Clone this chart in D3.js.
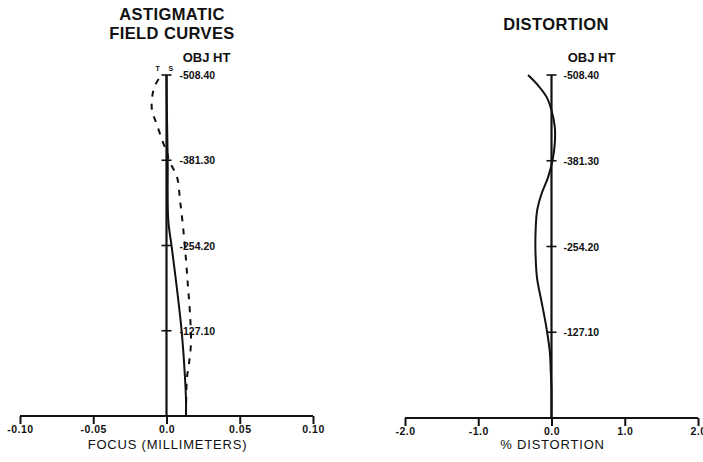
<!DOCTYPE html>
<html>
<head>
<meta charset="utf-8">
<script src="https://cdn.jsdelivr.net/npm/d3@7"></script>
<style>
  body { margin: 0; background: #fff; }
  svg { display: block; }
  text { font-family: "Liberation Sans", Arial, sans-serif; fill: #111; }
</style>
</head>
<body>
<div id="chart"></div>
<script>
// object heights shared by both panels
const objHeights = [127.10, 254.20, 381.30, 508.40];
const objHtLabels = ["-127.10", "-254.20", "-381.30", "-508.40"];

// astigmatic field curves (focus in mm)
const focusTicks = [-0.10, -0.05, 0.0, 0.05, 0.10];
const focusTickLabels = ["-0.10", "-0.05", "0.0", "0.05", "0.10"];
const tanHeight = [0, 30, 58, 79, 109, 154, 192, 233, 282, 322, 356, 382, 392, 408, 434, 456, 475, 492, 508.4];
const tanFocus  = [0.0133, 0.0135, 0.014, 0.0154, 0.0167, 0.016, 0.0147, 0.0133, 0.0113, 0.0092, 0.0072, 0.0015, 0.0005, -0.0024, -0.0065, -0.0099, -0.0098, -0.008, -0.0035];
const sagHeight = [0, 24, 58, 125, 192, 253, 292, 382, 450, 508.4];
const sagFocus  = [0.0133, 0.0133, 0.0126, 0.0104, 0.007, 0.0035, 0.0012, 0.0008, 0.0003, 0.0];

// distortion (%)
const distTicks = [-2, -1, 0, 1, 2];
const distTickLabels = ["-2.0", "-1.0", "0.0", "1.0", "2.0"];
const distHeight = [0, 40, 69, 98, 133, 173, 207, 243, 273, 307, 332, 357, 382, 407, 431, 456, 476, 493, 508.4];
const distValue  = [0, 0, -0.01, -0.023, -0.068, -0.137, -0.197, -0.218, -0.218, -0.197, -0.137, -0.046, 0.014, 0.045, 0.045, 0.0, -0.068, -0.183, -0.32];

const W = 703, H = 462;
const svg = d3.select("#chart").append("svg")
    .attr("width", W)
    .attr("height", H);

function drawPanel(o) {
    const x = d3.scaleLinear().domain(o.xDomain).range(o.xRange);
    const y = d3.scaleLinear().domain([0, 508.4]).range([o.yBottom, 75]);
    const g = svg.append("g");

    // horizontal axis, ticks hanging down
    const ax = g.append("g")
        .attr("transform", `translate(0, ${o.yBottom})`)
        .call(d3.axisBottom(x).tickValues(o.ticks).tickSize(8)
            .tickFormat((d, i) => o.tickLabels[i]).tickPadding(2));
    ax.select(".domain").attr("d", `M${o.xRange[0]},0H${o.xRange[1]}`)
        .attr("stroke", "#111").attr("stroke-width", 2);
    ax.selectAll(".tick line").attr("stroke", "#111").attr("stroke-width", 2);
    ax.selectAll(".tick text")
        .style("font-size", "10.5px").style("font-weight", "bold")
        .style("letter-spacing", "0.5px")
        .attr("fill", "#111");

    // vertical (object height) axis through zero
    g.append("line")
        .attr("x1", x(0)).attr("x2", x(0))
        .attr("y1", y(0)).attr("y2", y(508.4))
        .attr("stroke", "#111").attr("stroke-width", 2.2);
    g.selectAll(".hTick").data(objHeights).join("line")
        .attr("x1", x(0) - 5).attr("x2", x(0) + 5)
        .attr("y1", d => y(d)).attr("y2", d => y(d))
        .attr("stroke", "#111").attr("stroke-width", 1.6);
    g.selectAll(".hLab").data(objHeights).join("text")
        .attr("x", x(0) + o.labelOffset)
        .attr("y", d => y(d) + 4)
        .style("font-size", "10.5px").style("font-weight", "bold")
        .text((d, i) => objHtLabels[i]);

    g.append("text")
        .attr("x", x(0) + 40).attr("y", 62)
        .attr("text-anchor", "middle")
        .style("font-size", "13px").style("font-weight", "bold")
        .text("OBJ HT");

    o.titles.forEach((t, i) => {
        g.append("text")
            .attr("x", o.titleX).attr("y", o.titleY + i * 19)
            .attr("text-anchor", "middle")
            .style("font-size", "16.5px").style("font-weight", "bold")
            .style("letter-spacing", "0.4px")
            .text(t);
    });

    g.append("text")
        .attr("x", (o.xRange[0] + o.xRange[1]) / 2 + 1).attr("y", 449)
        .attr("text-anchor", "middle")
        .style("font-size", "13px")
        .style("letter-spacing", "0.8px")
        .text(o.xTitle);

    const line = d3.line()
        .x(d => x(d[1]))
        .y(d => y(d[0]))
        .curve(d3.curveCatmullRom);
    o.series.forEach(s => {
        g.append("path")
            .datum(d3.zip(s.h, s.v))
            .attr("d", line)
            .attr("fill", "none")
            .attr("stroke", "#111")
            .attr("stroke-width", 2)
            .attr("stroke-dasharray", s.dash || null);
    });
    return { x, y, g };
}

const left = drawPanel({
    xDomain: [-0.10, 0.10], xRange: [20, 313], yBottom: 416,
    ticks: focusTicks, tickLabels: focusTickLabels,
    labelOffset: 13,
    titles: ["ASTIGMATIC", "FIELD CURVES"], titleX: 172, titleY: 20,
    xTitle: "FOCUS (MILLIMETERS)",
    series: [
        { h: tanHeight, v: tanFocus, dash: "6,7" },
        { h: sagHeight, v: sagFocus }
    ]
});
left.g.append("text")
    .attr("x", left.x(-0.006)).attr("y", 71)
    .attr("text-anchor", "middle")
    .style("font-size", "7px").style("font-weight", "bold")
    .text("T");
left.g.append("text")
    .attr("x", left.x(0.003)).attr("y", 71)
    .attr("text-anchor", "middle")
    .style("font-size", "7px").style("font-weight", "bold")
    .text("S");

drawPanel({
    xDomain: [-2, 2], xRange: [405, 698], yBottom: 418,
    ticks: distTicks, tickLabels: distTickLabels,
    labelOffset: 12,
    titles: ["DISTORTION"], titleX: 556, titleY: 30,
    xTitle: "% DISTORTION",
    series: [
        { h: distHeight, v: distValue }
    ]
});
</script>
</body>
</html>
